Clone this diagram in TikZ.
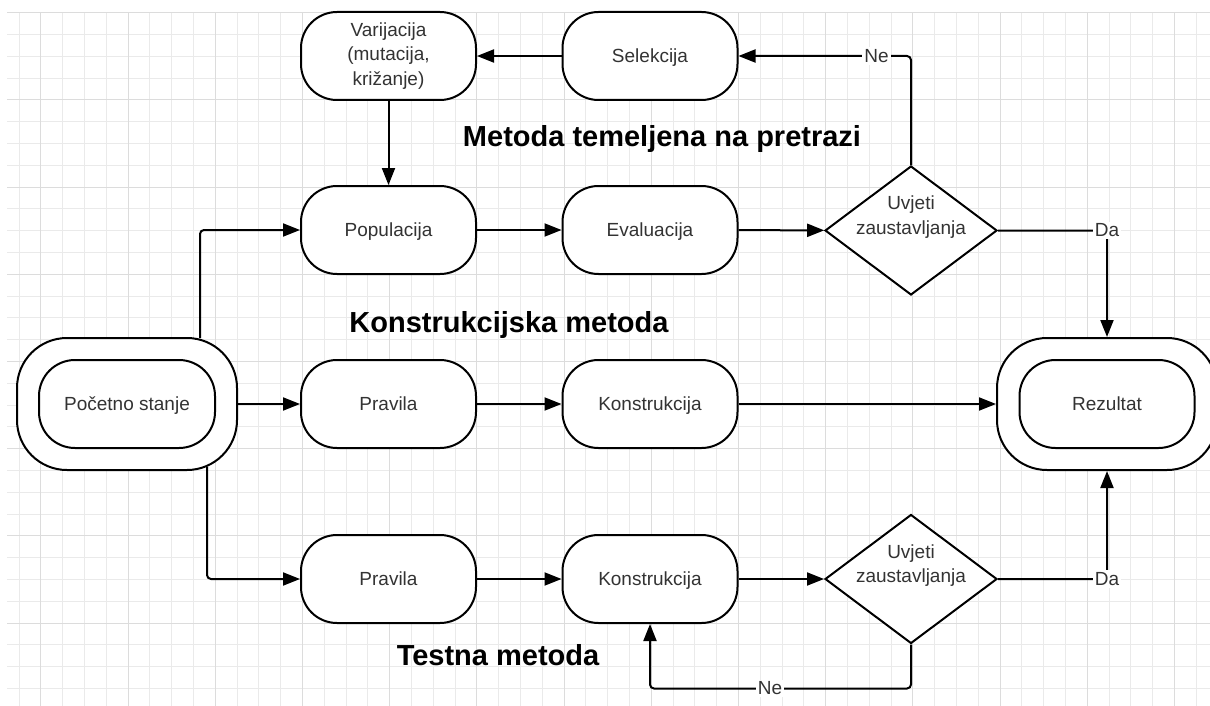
\documentclass[tikz,border=0pt]{standalone}
\usepackage{fontspec}
\setmainfont{Liberation Sans}
\usetikzlibrary{arrows.meta,shapes.geometric,calc}

\definecolor{gridlight}{RGB}{234,234,234}
\definecolor{griddark}{RGB}{220,220,220}
\definecolor{txtgray}{RGB}{51,51,51}
\newcommand{\lblfont}{\fontsize{19}{24.5}\selectfont}
\newcommand{\headfont}{\fontsize{29}{34}\selectfont\bfseries}
\newcommand{\condtext}{\raisebox{9pt}[0pt][0pt]{\begin{tabular}{@{}c@{}}Uvjeti\\zaustavljanja\end{tabular}}}

\begin{document}
\begin{tikzpicture}[ x=1pt, y=-1pt,
  procbox/.style={draw, fill=white, line width=2pt, rounded corners=36pt, minimum width=175pt, minimum height=88pt, inner sep=0pt, text height=13.6pt, text depth=0pt, align=center, font=\lblfont, text=txtgray},
  termbox/.style={draw, fill=white, line width=2pt, rounded corners=50pt, minimum width=220pt, minimum height=132pt, inner sep=0pt},
  condbox/.style={draw, fill=white, diamond, aspect=1.33, line width=2pt, minimum width=172pt, minimum height=129pt, inner sep=0pt, font=\lblfont, text=txtgray},
  conn/.style={line width=2pt, rounded corners=4pt, -{Triangle[length=17pt,width=13pt]}},
  tag/.style={fill=white, inner sep=2pt, rounded corners=0pt, font=\lblfont, text=txtgray},
  heading/.style={font=\headfont} ]

\useasboundingbox (0,0) rectangle (1210,706);
\fill[white] (0,0) rectangle (1210,706);

%Grid
\foreach \i in {0,...,54}
  \draw[gridlight, line width=1pt] ({19+21.8*\i},12.7) -- ({19+21.8*\i},706);
\foreach \j in {0,...,31}
  \draw[gridlight, line width=1pt] (7,{12.7+21.8*\j}) -- (1210,{12.7+21.8*\j});
\foreach \i in {1,5,...,53}
  \draw[griddark, line width=1pt] ({19+21.8*\i},12.7) -- ({19+21.8*\i},706);
\foreach \j in {0,4,...,28}
  \draw[griddark, line width=1pt] (7,{12.7+21.8*\j}) -- (1210,{12.7+21.8*\j});

% Metoda temeljena na pretrazi
\node[procbox, text height={}, text depth={}] (var) at (388.5,56) {Varijacija\\(mutacija,\\križanje)};
\node[procbox] (sel) at (650,56) {Selekcija};
\node[procbox] (pop) at (388.5,230) {Populacija};
\node[procbox] (eval) at (650,230) {Evaluacija};
\node[condbox] (dia1) at (911,230.5) {\condtext};
\node[heading] (hsearch) at (662,139) {Metoda temeljena na pretrazi};

% Konstrukcijska metoda
\node[termbox] (start) at (127,404) {};
\node[procbox, minimum width=176pt] (startin) at (start) {Početno stanje};
\node[procbox] (prav1) at (388.5,404) {Pravila};
\node[procbox] (kons1) at (650,404) {Konstrukcija};
\node[termbox] (res) at (1107,404) {};
\node[procbox] (resin) at (res) {Rezultat};
\node[heading] (hconstr) at (509,325) {Konstrukcijska metoda};

% Testna metoda
\node[procbox] (prav2) at (388.5,579) {Pravila};
\node[procbox] (kons2) at (650,579) {Konstrukcija};
\node[condbox] (dia2) at (911,579) {\condtext};
\node[heading] (htest) at (498,655) {Testna metoda};

%Connectors
\draw[conn] (sel) -- (var);
\draw[conn] (var) -- (pop);
\draw[conn] (pop) -- (eval);
\draw[conn] (eval) -- (dia1);
\draw[conn] (dia1.north) |- node[tag, pos=.6] {Ne} (sel);
\draw[conn] (dia1) -| node[tag, pos=.5] {Da} (res);

\draw[conn] ($(start.north)+(73,1)$) |- (pop);
\draw[conn] (start) -- (prav1);
\draw[conn] (prav1) -- (kons1);
\draw[conn] (kons1) -- (res);
\draw[conn] ($(start.south)+(80,-4)$) |- (prav2);

\draw[conn] (prav2) -- (kons2);
\draw[conn] (kons2) -- (dia2);
\draw[conn] (dia2) -| node[tag, pos=.5] {Da} (res);
\draw[conn] (dia2.south) -- ++(0,44) -| node[tag, pos=.27] {Ne} (kons2);

\end{tikzpicture}
\end{document}
